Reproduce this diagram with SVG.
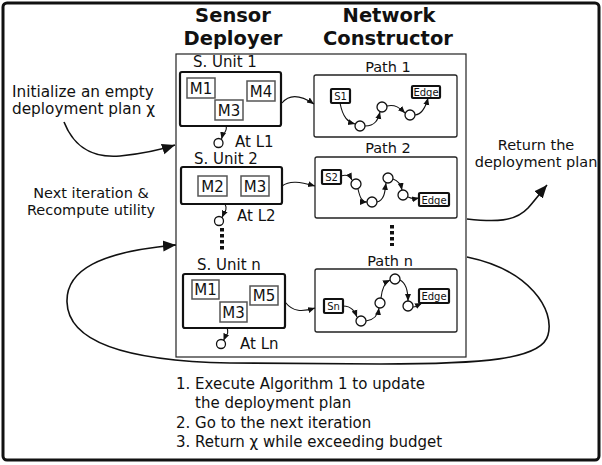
<svg xmlns="http://www.w3.org/2000/svg" width="602" height="465" viewBox="0 0 602 465">
<style>
text{font-family:"DejaVu Sans",Verdana,sans-serif;fill:#111}
.t{font-weight:bold;font-size:19.5px;text-anchor:middle}
.lbl{font-size:15px}
.pl{font-size:14.5px;text-anchor:middle}
.side{font-size:14.5px}
.init{font-size:15.3px}
.m{font-size:15px;text-anchor:middle}
.sm{font-size:10px;text-anchor:middle}
.steps{font-size:15px}
.unit{fill:#fff;stroke:#111;stroke-width:2.2}
.mod{fill:#fff;stroke:#555;stroke-width:1.5}
.pbox{fill:#fff;stroke:#222;stroke-width:1.3}
.nd{fill:#fff;stroke:#111;stroke-width:2.2}
.cn{fill:#fff;stroke:#111;stroke-width:1.3}
.c{fill:none;stroke:#111;stroke-width:1.1}
.big{fill:none;stroke:#111;stroke-width:1.6}
.dots{stroke:#111;stroke-width:4;stroke-dasharray:3.5 2.5}
</style>
<defs>
<marker id="as" markerUnits="userSpaceOnUse" markerWidth="8" markerHeight="8" refX="7" refY="4" orient="auto"><path d="M0,1 L7,4 L0,7 Z" fill="#111"/></marker>
<marker id="al" markerUnits="userSpaceOnUse" markerWidth="14" markerHeight="14" refX="13" refY="7" orient="auto"><path d="M0,1.5 L13,7 L0,12.5 Z" fill="#111"/></marker>
</defs>
<rect x="3" y="3" width="596" height="457" rx="4" fill="#fff" stroke="#111" stroke-width="3"/>
<rect x="176" y="54" width="290" height="303" fill="none" stroke="#222" stroke-width="1.2"/>
<text class="t" x="233" y="22">Sensor</text>
<text class="t" x="233" y="45">Deployer</text>
<text class="t" x="389" y="22">Network</text>
<text class="t" x="388" y="45">Constructor</text>
<g id="unit1">
<text class="lbl" x="193" y="67">S. Unit 1</text>
<rect class="unit" x="180" y="72" width="101" height="54" rx="2"/>
<rect class="mod" x="187" y="78" width="28" height="20"/><text class="m" x="201" y="94">M1</text>
<rect class="mod" x="247" y="81" width="28" height="20"/><text class="m" x="261" y="97">M4</text>
<rect class="mod" x="215" y="100" width="28" height="20"/><text class="m" x="229" y="116">M3</text>
<circle class="cn" cx="218.5" cy="143" r="4.5"/>
<text class="lbl" x="235" y="147">At L1</text>
</g>
<g id="unit2">
<text class="lbl" x="194" y="164">S. Unit 2</text>
<rect class="unit" x="181" y="167" width="101" height="37" rx="2"/>
<rect class="mod" x="198" y="176" width="29" height="20"/><text class="m" x="212.5" y="192">M2</text>
<rect class="mod" x="241" y="176" width="28" height="20"/><text class="m" x="255" y="192">M3</text>
<circle class="cn" cx="219" cy="221" r="4.5"/>
<text class="lbl" x="237" y="221">At L2</text>
<line class="dots" x1="222" y1="228" x2="222" y2="251"/>
</g>
<g id="unitn">
<text class="lbl" x="197" y="270">S. Unit n</text>
<rect class="unit" x="183" y="274" width="102" height="54" rx="2"/>
<rect class="mod" x="192" y="280" width="27" height="19"/><text class="m" x="205.5" y="295">M1</text>
<rect class="mod" x="250" y="286" width="28" height="19"/><text class="m" x="264" y="301">M5</text>
<rect class="mod" x="220" y="302" width="27" height="20"/><text class="m" x="233.5" y="318">M3</text>
<circle class="cn" cx="221" cy="344" r="4.5"/>
<text class="lbl" x="240" y="349">At Ln</text>
</g>
<g id="path1">
<text class="pl" x="388" y="72">Path 1</text>
<rect class="pbox" x="314" y="75" width="143" height="62" rx="2"/>
<rect class="nd" x="331" y="89" width="19" height="14" rx="1"/><text class="sm" x="340.5" y="100">S1</text>
<rect class="nd" x="412" y="86" width="28" height="12" rx="1"/><text class="sm" x="426" y="96">Edge</text>
<circle class="cn" cx="360" cy="126" r="5"/>
<circle class="cn" cx="382" cy="107" r="5"/>
<circle class="cn" cx="410" cy="115" r="5"/>
</g>
<g id="path2">
<text class="pl" x="388" y="153">Path 2</text>
<rect class="pbox" x="315" y="157" width="142" height="61" rx="2"/>
<rect class="nd" x="322" y="170" width="19" height="14" rx="1"/><text class="sm" x="331.5" y="181">S2</text>
<rect class="nd" x="419" y="193" width="30" height="13" rx="1"/><text class="sm" x="434" y="203.5">Edge</text>
<circle class="cn" cx="356" cy="184" r="5"/>
<circle class="cn" cx="372" cy="202" r="5"/>
<circle class="cn" cx="388" cy="178" r="5"/>
<circle class="cn" cx="403" cy="195" r="5"/>
<line class="dots" x1="392" y1="225" x2="392" y2="246"/>
</g>
<g id="pathn">
<text class="pl" x="390" y="266">Path n</text>
<rect class="pbox" x="315" y="269" width="142" height="63" rx="2"/>
<rect class="nd" x="324" y="299" width="19" height="14" rx="1"/><text class="sm" x="333.5" y="310">Sn</text>
<rect class="nd" x="419" y="289" width="30" height="14" rx="1"/><text class="sm" x="434" y="300">Edge</text>
<circle class="cn" cx="361" cy="321" r="5"/>
<circle class="cn" cx="380" cy="303" r="5"/>
<circle class="cn" cx="395" cy="279" r="5"/>
<circle class="cn" cx="408" cy="306" r="5"/>
</g>
<g id="labels">
<text class="init" x="12" y="97">Initialize an empty</text>
<text class="init" x="12" y="114">deployment plan χ</text>
<text class="side" x="91" y="198" text-anchor="middle">Next iteration &amp;</text>
<text class="side" x="91" y="215" text-anchor="middle">Recompute utility</text>
<text class="side" x="536" y="150" text-anchor="middle">Return the</text>
<text class="side" x="536" y="167" text-anchor="middle">deployment plan</text>
<text class="steps" x="176" y="389">1. Execute Algorithm 1 to update</text>
<text class="steps" x="195" y="408">the deployment plan</text>
<text class="steps" x="176" y="428">2. Go to the next iteration</text>
<text class="steps" x="176" y="447">3. Return χ while exceeding budget</text>
</g>
<g id="connectors">
<path class="c" marker-end="url(#as)" d="M226,126 C228,131 223,133 221.5,139"/>
<path class="c" marker-end="url(#as)" d="M225,204 C228,210 224,213 222,217.5"/>
<path class="c" marker-end="url(#as)" d="M227,328 C230,334 225,337 223.5,340.5"/>
<path class="c" marker-end="url(#as)" d="M282,103 C290,93 302,96 314,104"/>
<path class="c" marker-end="url(#as)" d="M282,186 C290,180 300,182 315,186"/>
<path class="c" marker-end="url(#as)" d="M285,302 C293,312 302,312 315,308"/>
<path class="c" marker-end="url(#as)" d="M340,103 C343,118 348,122 355,124"/>
<path class="c" marker-end="url(#as)" d="M365,126 C375,126 378,120 380,112"/>
<path class="c" marker-end="url(#as)" d="M387,106 C395,104 400,108 405,113"/>
<path class="c" marker-end="url(#as)" d="M415,115 C423,114 426,106 428,98"/>
<path class="c" marker-end="url(#as)" d="M341,176 C347,174 350,176 352,180"/>
<path class="c" marker-end="url(#as)" d="M358,189 C360,198 362,202 367,202"/>
<path class="c" marker-end="url(#as)" d="M377,202 C385,200 385,190 386,183"/>
<path class="c" marker-end="url(#as)" d="M393,179 C399,181 401,185 402,190"/>
<path class="c" marker-end="url(#as)" d="M408,197 C412,199 414,199 419,198"/>
<path class="c" marker-end="url(#as)" d="M343,306 C352,306 355,312 357,317"/>
<path class="c" marker-end="url(#as)" d="M366,321 C374,320 378,315 379,308"/>
<path class="c" marker-end="url(#as)" d="M381,298 C382,288 386,282 390,280"/>
<path class="c" marker-end="url(#as)" d="M400,280 C406,283 408,292 408,301"/>
<path class="c" marker-end="url(#as)" d="M413,307 C418,307 420,304 422,303"/>
<path class="big" marker-end="url(#al)" d="M64,122 C75,150 95,158 120,156 C140,154 160,150 175,145"/>
<path class="big" marker-end="url(#al)" d="M467,219 C495,222 515,222 528,208 C535,200 541,192 547,185"/>
<path class="big" d="M467,257 C530,270 555,310 548,335 C542,360 480,364 380,364 L230,363 C120,361 68,340 67,302 C66,270 100,252 175,245"/>
<path class="big" marker-end="url(#al)" d="M170,245.5 L176,245"/>
</g>
</svg>
